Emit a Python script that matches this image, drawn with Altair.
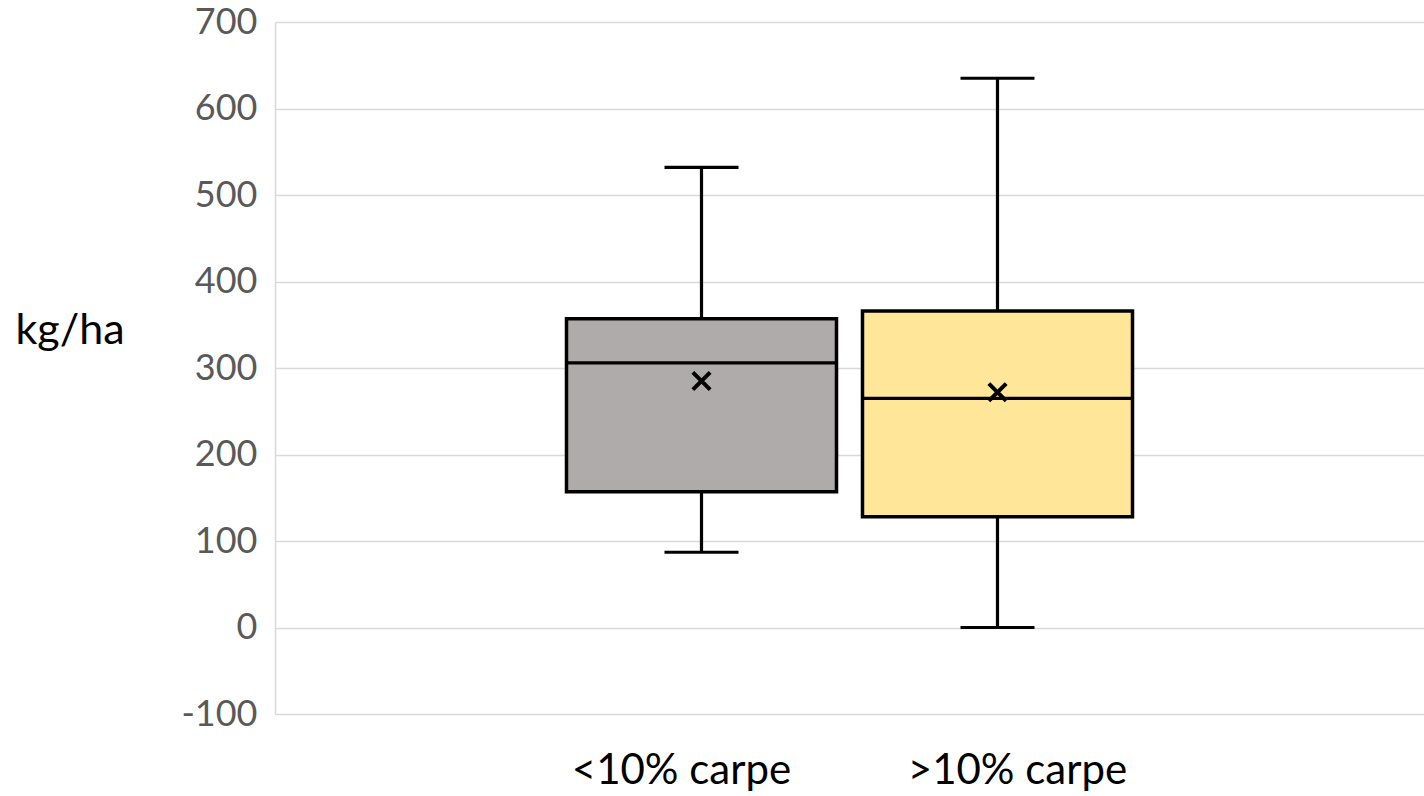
import altair as alt
import pandas as pd

categories = ["<10% carpe", ">10% carpe"]
mins = [87, 0]
q1s = [157, 128]
medians = [306, 265]
q3s = [357, 366]
maxs = [532, 635]
means = [285, 272]
colors = ["#AFABAB", "#FFE699"]

df = pd.DataFrame({
    "cat": categories, "min": mins, "q1": q1s, "median": medians,
    "q3": q3s, "max": maxs, "mean": means, "color": colors,
})

FONT = "Lato"
W, H = 1149, 692

x = alt.X("cat:N", sort=categories, title=None,
          scale=alt.Scale(paddingInner=0.0878, paddingOuter=0.9848),
          axis=alt.Axis(domain=False, ticks=False, labelAngle=0, labelLimit=0,
                        labelFont=FONT, labelFontSize=42, labelColor="#000000",
                        labelPadding=36, labelBaseline="top",
                        labelOffset={"condition": {"test": "datum.value == '<10% carpe'", "value": -20}, "value": 20}))
yscale = alt.Scale(domain=[-100, 700], nice=False, zero=False)
yaxis = alt.Axis(values=list(range(-100, 701, 100)), title="kg/ha",
                 labelExpr="toString(datum.value)",
                 titleAngle=0, titleAlign="left", titleBaseline="middle",
                 titleX=-260, titleY=308, titleFont=FONT, titleFontSize=43,
                 titleFontWeight="normal", titleColor="#000000",
                 labelFont=FONT, labelFontSize=36, labelColor="#595959",
                 labelPadding=18, ticks=False, domainColor="#D9D9D9",
                 domainWidth=1.5, gridColor="#D9D9D9", gridWidth=1.5)

base = alt.Chart(df)

whisker = base.mark_rule(color="black", strokeWidth=3.2).encode(
    x=x, y=alt.Y("min:Q", scale=yscale, axis=yaxis), y2="max:Q")
cap_lo = base.mark_tick(color="black", size=74, thickness=3.2, opacity=1).encode(x=x, y=alt.Y("min:Q", scale=yscale))
cap_hi = base.mark_tick(color="black", size=74, thickness=3.2, opacity=1).encode(x=x, y=alt.Y("max:Q", scale=yscale))
box = base.mark_bar(stroke="black", strokeWidth=3.5, opacity=1).encode(
    x=x, y=alt.Y("q1:Q", scale=yscale), y2="q3:Q",
    fill=alt.Fill("color:N", scale=None))
med = base.mark_tick(color="black", size=270, thickness=3.2, opacity=1).encode(x=x, y=alt.Y("median:Q", scale=yscale))
mean = base.mark_point(shape="M-1,-1L1,1M-1,1L1,-1", size=300, filled=False,
                       stroke="black", strokeWidth=4, opacity=1).encode(
    x=x, y=alt.Y("mean:Q", scale=yscale))

chart = alt.layer(whisker, cap_lo, cap_hi, box, med, mean).properties(
    width=W, height=H,
    autosize=alt.AutoSizeParams(type="none"),
    padding={"left": 275, "top": 22, "right": 0, "bottom": 82},
).configure_view(stroke=None).configure(background="white")

chart.save("out.html", embed_options={"renderer": "svg", "actions": False})
